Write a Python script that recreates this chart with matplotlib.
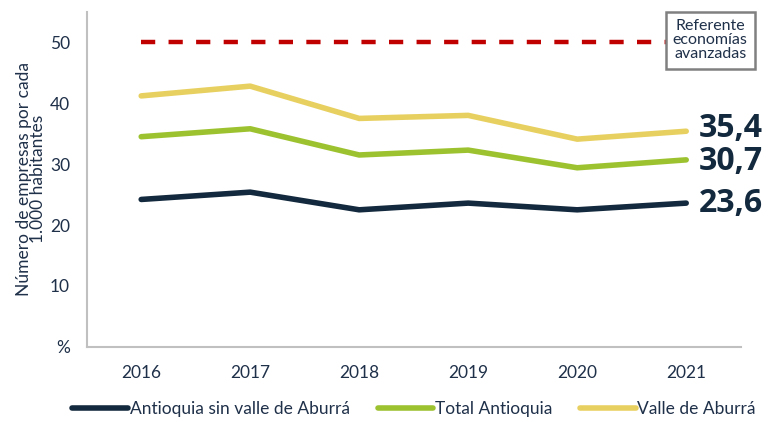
import matplotlib.pyplot as plt

plt.rcParams['font.family'] = ['Lato', 'DejaVu Sans']

# datos
years = ['2016', '2017', '2018', '2019', '2020', '2021']
sin_valle = [24.2, 25.4, 22.5, 23.6, 22.5, 23.6]
total_antioquia = [34.5, 35.8, 31.5, 32.3, 29.4, 30.7]
valle_aburra = [41.2, 42.8, 37.5, 38.0, 34.1, 35.4]
referente = 50
y_ticks = [0, 10, 20, 30, 40, 50]
y_tick_labels = ['%', '10', '20', '30', '40', '50']

navy = '#13293d'
green = '#9dc230'
yellow = '#e8d060'
red = '#c00000'
text_color = '#1f3049'

fig = plt.figure(figsize=(7.74, 4.22), dpi=100)
ax = fig.add_axes([0.112, 0.178, 0.845, 0.794])

x = list(range(len(years)))
ax.plot(x[:-1] + [4.85], [referente] * 6, color=red, lw=3.2, dashes=(3.2, 3.0), solid_capstyle='butt')
ax.plot(x, valle_aburra, color=yellow, lw=4, solid_capstyle='round', label='Valle de Aburrá')
ax.plot(x, total_antioquia, color=green, lw=4, solid_capstyle='round', label='Total Antioquia')
ax.plot(x, sin_valle, color=navy, lw=4, solid_capstyle='round', label='Antioquia sin valle de Aburrá')

# etiquetas finales (la de arriba un poco más alta, como en el original)
for serie, dy in [(valle_aburra, 2), (total_antioquia, -1), (sin_valle, 0)]:
    ax.annotate(f'{serie[-1]:.1f}'.replace('.', ','), xy=(x[-1], serie[-1]), xytext=(9, dy),
                textcoords='offset points', va='center', ha='left', fontsize=23,
                family=['Open Sans', 'DejaVu Sans'], fontweight='bold', color=navy,
                annotation_clip=False)

ax.text(5.22, 50.3, 'Referente\neconomías\navanzadas', ha='center', va='center', fontsize=11.5,
        color=text_color, linespacing=1.0,
        bbox=dict(boxstyle='square,pad=0.45', fc='white', ec='#808080', lw=1.8))

ax.set_xlim(-0.5, 5.5)
ax.set_ylim(0, 55)
ax.set_xticks(x)
ax.set_xticklabels(years)
ax.set_yticks(y_ticks)
ax.set_yticklabels(y_tick_labels)
ax.tick_params(length=0, labelsize=12.5, colors=text_color)
ax.tick_params(axis='x', pad=13)
ax.tick_params(axis='y', pad=12)
for s in ['top', 'right']:
    ax.spines[s].set_visible(False)
for s in ['left', 'bottom']:
    ax.spines[s].set_color('#c0c0c0')
    ax.spines[s].set_linewidth(1.5)

ax.set_ylabel('Número de empresas por cada\n1.000 habitantes', fontsize=12.5, color=text_color,
              linespacing=0.8, labelpad=3)

handles, labels = ax.get_legend_handles_labels()
order = [2, 1, 0]
fig.legend([handles[i] for i in order], [labels[i] for i in order], loc='lower center',
           bbox_to_anchor=(0.535, -0.025), ncol=3, frameon=False, fontsize=12.5,
           handlelength=3.2, handletextpad=0.1, columnspacing=1.6, labelcolor=text_color)

fig.savefig('out.png', dpi=100)
